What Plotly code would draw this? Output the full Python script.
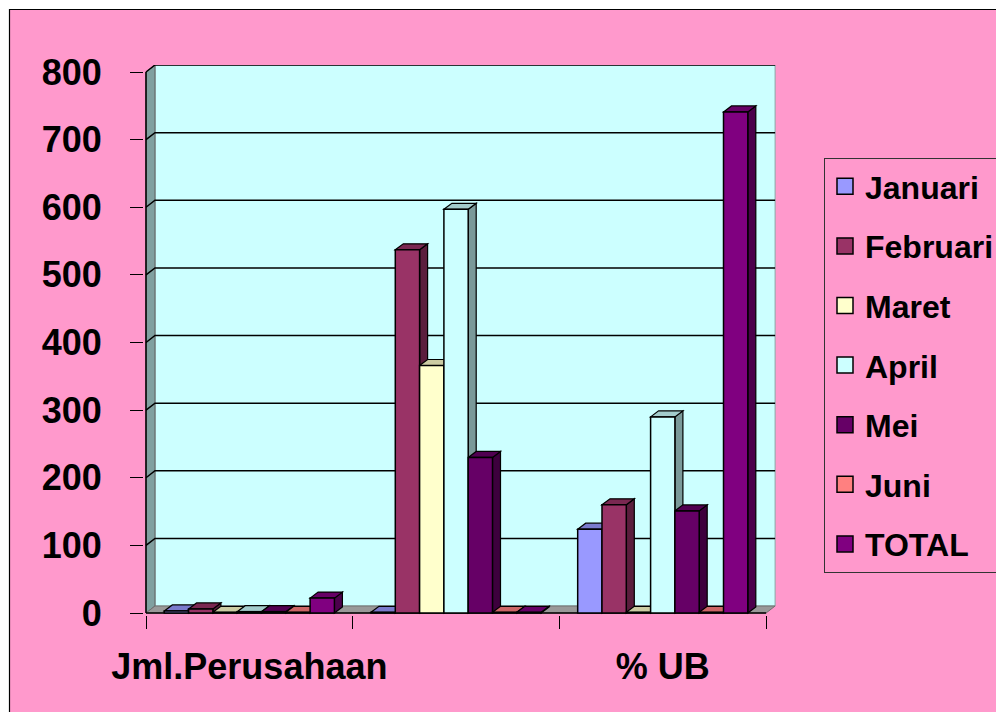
import plotly.graph_objects as go

# ---------------- data ----------------
categories = ["Jml.Perusahaan", "", "% UB"]
series_names = ["Januari", "Februari", "Maret", "April", "Mei", "Juni", "TOTAL"]
januari = [3, 1, 124]
februari = [6, 537, 160]
maret = [1, 366, 1]
april = [2, 597, 290]
mei = [2, 230, 151]
juni = [1, 1, 1]
total = [22, 1, 741]
series_values = [januari, februari, maret, april, mei, juni, total]
series_colors = ["#9999FF", "#993366", "#FFFFCC", "#CCFFFF", "#660066", "#FF8080", "#800080"]
y_ticks = [0, 100, 200, 300, 400, 500, 600, 700, 800]

# ---------------- geometry (pixels, page coords minus body margin) ----------------
OFF = 8
W, H = 1004, 712
PL, PR, PT, PB = 144 - OFF, 778 - OFF, 65 - OFF, 615 - OFF   # plot rectangle
X0PX, Y0PX, YTOPPX = 146 - OFF, 613 - OFF, 72 - OFF         # front origin and front 800 line
CAT_PX = 206.7
U = 800 / (Y0PX - YTOPPX)                 # data units per pixel (y)
XR = [-0.5 - (X0PX - PL) / CAT_PX, -0.5 + (PR - X0PX) / CAT_PX]
YR = [-(PB - Y0PX) * U, (Y0PX - PT) * U]

BARGAP = 0.177
N = len(series_names)
BW = (1 - BARGAP) / N
DXW, DYW = 9 / CAT_PX, 7 * U              # wall depth
DXB, DYB = 8 / CAT_PX, 6 * U              # bar depth


def shade(hexcol, f):
    r, g, b = int(hexcol[1:3], 16), int(hexcol[3:5], 16), int(hexcol[5:7], 16)
    return "rgb(%d,%d,%d)" % (r * f, g * f, b * f)


def poly(pts):
    return "M " + " L ".join("%f,%f" % p for p in pts) + " Z"


def px_x(p):
    return (p - OFF - PL) / (PR - PL)


def px_y(p):
    return (PB - (p - OFF)) / (PB - PT)


shapes = []
# pink page with black frame
shapes.append(dict(type="rect", xref="paper", yref="paper", layer="below",
                   x0=px_x(9.5), x1=px_x(1030), y0=px_y(740), y1=px_y(9.5),
                   fillcolor="#FF99CC", line=dict(color="black", width=1.2)))
xl, xrt = -0.5, 2.5
ytop = y_ticks[-1]
# back wall
shapes.append(dict(type="rect", xref="x", yref="y", layer="below",
                   x0=xl + DXW, x1=xrt + DXW, y0=DYW, y1=ytop + DYW,
                   fillcolor="#CCFFFF", line=dict(color="#8AA6A6", width=1)))
# side wall
shapes.append(dict(type="path", xref="x", yref="y", layer="below",
                   path=poly([(xl, 0), (xl + DXW, DYW), (xl + DXW, ytop + DYW), (xl, ytop)]),
                   fillcolor="#80A0A0", line=dict(color="#606060", width=1)))
# floor
shapes.append(dict(type="path", xref="x", yref="y", layer="below",
                   path=poly([(xl, 0), (xl + DXW, DYW), (xrt + DXW, DYW), (xrt, 0)]),
                   fillcolor="#999999", line=dict(color="#707070", width=1)))
# gridlines
for v in y_ticks[1:]:
    shapes.append(dict(type="path", xref="x", yref="y", layer="below",
                       path="M %f,%f L %f,%f L %f,%f" % (xl, v, xl + DXW, v + DYW, xrt + DXW, v + DYW),
                       line=dict(color="black", width=1.5)))
# front axis lines
shapes.append(dict(type="line", xref="x", yref="y", layer="below",
                   x0=xl, x1=xl, y0=0, y1=ytop, line=dict(color="black", width=1.5)))
shapes.append(dict(type="line", xref="x", yref="y", layer="below",
                   x0=xl, x1=xrt, y0=0, y1=0, line=dict(color="black", width=1.5)))

# 3D faces of bars
for j, (vals, col) in enumerate(zip(series_values, series_colors)):
    for i, v in enumerate(vals):
        c = i + (j - (N - 1) / 2) * BW
        a, b = c - BW / 2, c + BW / 2
        shapes.append(dict(type="path", xref="x", yref="y", layer="below",
                           path=poly([(b, 0), (b, v), (b + DXB, v + DYB), (b + DXB, DYB)]),
                           fillcolor=shade(col, 0.6), line=dict(color="black", width=1.2)))
        shapes.append(dict(type="path", xref="x", yref="y", layer="below",
                           path=poly([(a, v), (a + DXB, v + DYB), (b + DXB, v + DYB), (b, v)]),
                           fillcolor=shade(col, 0.8), line=dict(color="black", width=1.2)))

fig = go.Figure()
for j, (name, vals, col) in enumerate(zip(series_names, series_values, series_colors)):
    fig.add_trace(go.Bar(name=name, x=list(range(len(categories))), y=vals,
                         marker=dict(color=col, line=dict(color="black", width=1.5)),
                         legendgroup=name, showlegend=False))
# legend entries (larger square swatches)
for name, col in zip(series_names, series_colors):
    fig.add_trace(go.Scatter(name=name, x=[None], y=[None], mode="markers",
                             marker=dict(symbol="square", size=16, color=col,
                                         line=dict(color="black", width=1.5)),
                             legendgroup=name, showlegend=True, hoverinfo="skip"))

FONT = "Liberation Sans, Arial, sans-serif"
fig.update_layout(
    width=W, height=H,
    margin=dict(l=PL, r=W - PR, t=PT, b=H - PB, pad=0),
    paper_bgcolor="white", plot_bgcolor="rgba(0,0,0,0)",
    barmode="group", bargap=BARGAP, bargroupgap=0,
    shapes=shapes,
    font=dict(family=FONT, color="black"),
    xaxis=dict(range=XR, tickvals=list(range(len(categories))), ticktext=categories,
               ticks="", showgrid=False, zeroline=False, showline=False,
               tickfont=dict(size=36, family=FONT, weight="bold"), ticklabelstandoff=27,
               minor=dict(tickvals=[-0.5, 0.5, 1.5, 2.5], ticks="outside", ticklen=13,
                          tickcolor="black", tickwidth=1, showgrid=False)),
    yaxis=dict(range=YR, tickvals=y_ticks, ticks="outside", ticklen=13, tickcolor="black",
               tickwidth=1, showgrid=False, zeroline=False, showline=False,
               tickfont=dict(size=36, family=FONT, weight="bold"), ticklabelstandoff=21),
    legend=dict(x=px_x(824), y=px_y(158), xanchor="left", yanchor="top",
                bgcolor="#FF99CC", bordercolor="#333333", borderwidth=1,
                font=dict(size=32, family=FONT, weight="bold"), tracegroupgap=15,
                itemwidth=30),
)
fig.write_html("out.html")
